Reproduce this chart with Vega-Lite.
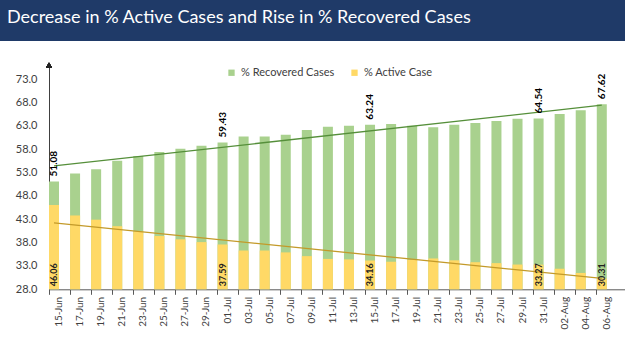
{
  "$schema": "https://vega.github.io/schema/vega-lite/v6.json",
  "width": 625,
  "height": 310,
  "autosize": {"type": "none"},
  "padding": {"left": 0, "top": 41, "right": 0, "bottom": 0},
  "background": "#1f3a68",
  "config": {"view": {"fill": "white", "stroke": null}, "font": "Lato"},
  "title": {
    "text": "Decrease in % Active Cases and Rise in % Recovered Cases",
    "anchor": "start",
    "frame": "group",
    "color": "white",
    "font": "Lato",
    "fontSize": 18,
    "fontWeight": "normal",
    "dx": 7,
    "offset": 0,
    "baseline": "alphabetic"
  },
  "datasets": {
    "trend": [
      {"date": "15-Jun", "series": "rec", "value": 54.4},
      {"date": "06-Aug", "series": "rec", "value": 67.4},
      {"date": "15-Jun", "series": "act", "value": 42.2},
      {"date": "06-Aug", "series": "act", "value": 30.35}
    ]
  },
  "data": {
    "values": [
      {"date": "15-Jun", "recovered": 51.08, "active": 46.06, "lab": true},
      {"date": "17-Jun", "recovered": 52.8, "active": 43.8, "lab": false},
      {"date": "19-Jun", "recovered": 53.7, "active": 42.9, "lab": false},
      {"date": "21-Jun", "recovered": 55.5, "active": 41.5, "lab": false},
      {"date": "23-Jun", "recovered": 56.5, "active": 40.4, "lab": false},
      {"date": "25-Jun", "recovered": 57.4, "active": 39.4, "lab": false},
      {"date": "27-Jun", "recovered": 58.1, "active": 38.7, "lab": false},
      {"date": "29-Jun", "recovered": 58.7, "active": 38.1, "lab": false},
      {"date": "01-Jul", "recovered": 59.43, "active": 37.59, "lab": true},
      {"date": "03-Jul", "recovered": 60.7, "active": 36.3, "lab": false},
      {"date": "05-Jul", "recovered": 60.7, "active": 36.3, "lab": false},
      {"date": "07-Jul", "recovered": 61.1, "active": 35.9, "lab": false},
      {"date": "09-Jul", "recovered": 62.1, "active": 35.1, "lab": false},
      {"date": "11-Jul", "recovered": 62.8, "active": 34.5, "lab": false},
      {"date": "13-Jul", "recovered": 63.0, "active": 34.4, "lab": false},
      {"date": "15-Jul", "recovered": 63.24, "active": 34.16, "lab": true},
      {"date": "17-Jul", "recovered": 63.4, "active": 33.9, "lab": false},
      {"date": "19-Jul", "recovered": 63.0, "active": 34.3, "lab": false},
      {"date": "21-Jul", "recovered": 62.7, "active": 34.6, "lab": false},
      {"date": "23-Jul", "recovered": 63.2, "active": 34.2, "lab": false},
      {"date": "25-Jul", "recovered": 63.6, "active": 33.8, "lab": false},
      {"date": "27-Jul", "recovered": 64.0, "active": 33.6, "lab": false},
      {"date": "29-Jul", "recovered": 64.5, "active": 33.3, "lab": false},
      {"date": "31-Jul", "recovered": 64.54, "active": 33.27, "lab": true},
      {"date": "02-Aug", "recovered": 65.5, "active": 32.4, "lab": false},
      {"date": "04-Aug", "recovered": 66.3, "active": 31.5, "lab": false},
      {"date": "06-Aug", "recovered": 67.62, "active": 30.31, "lab": true}
    ]
  },
  "encoding": {
    "x": {
      "field": "date",
      "type": "ordinal",
      "sort": null,
      "scale": {
        "domain": ["15-Jun","17-Jun","19-Jun","21-Jun","23-Jun","25-Jun","27-Jun","29-Jun","01-Jul","03-Jul","05-Jul","07-Jul","09-Jul","11-Jul","13-Jul","15-Jul","17-Jul","19-Jul","21-Jul","23-Jul","25-Jul","27-Jul","29-Jul","31-Jul","02-Aug","04-Aug","06-Aug"],
        "range": [49, 625],
        "paddingInner": 0.525,
        "paddingOuter": 0.432,
        "align": 0
      },
      "axis": {
        "title": null,
        "labelAngle": -90,
        "bandPosition": 0,
        "labelOffset": 5,
        "tickSize": 5,
        "tickColor": "#595959",
        "domainColor": "#595959",
        "labelColor": "#404040",
        "labelFontSize": 10,
        "labelPadding": 2,
        "labelOverlap": false,
        "offset": -61.7
      }
    }
  },
  "layer": [
    {
      "mark": {"type": "bar"},
      "encoding": {
        "y": {
          "field": "recovered",
          "type": "quantitative",
          "scale": {"domain": [28, 76], "range": [248.3, 24], "zero": false, "nice": false},
          "axis": {
            "title": null,
            "values": [28, 33, 38, 43, 48, 53, 58, 63, 68, 73],
            "tickCount": 20,
            "format": ".1f",
            "ticks": false,
            "grid": false,
            "labelOverlap": false,
            "labelPadding": 12,
            "offset": -49,
            "domainColor": "#404040",
            "labelColor": "#404040",
            "labelFontSize": 11
          }
        },
        "y2": {"datum": 28},
        "color": {
          "datum": "% Recovered Cases",
          "scale": {"domain": ["% Recovered Cases", "% Active Case"], "range": ["#a9d18e", "#ffd966"]},
          "legend": {
            "orient": "none",
            "legendX": 226,
            "legendY": 26,
            "direction": "horizontal",
            "title": null,
            "symbolType": "square",
            "symbolSize": 40,
            "symbolStrokeWidth": 0,
            "labelFontSize": 11,
            "labelColor": "#404040",
            "columnPadding": 14
          }
        }
      }
    },
    {
      "mark": {"type": "bar"},
      "encoding": {
        "y": {"field": "active", "type": "quantitative"},
        "y2": {"datum": 28},
        "color": {"datum": "% Active Case"}
      }
    },
    {
      "data": {"name": "trend"},
      "transform": [{"filter": "datum.series == 'rec'"}],
      "mark": {"type": "line", "color": "#558f3a", "strokeWidth": 1.3},
      "encoding": {"y": {"field": "value", "type": "quantitative"}}
    },
    {
      "data": {"name": "trend"},
      "transform": [{"filter": "datum.series == 'act'"}],
      "mark": {"type": "line", "color": "#c39a2a", "strokeWidth": 1.3},
      "encoding": {"y": {"field": "value", "type": "quantitative"}}
    },
    {
      "transform": [{"filter": "datum.lab"}],
      "mark": {"type": "text", "angle": 270, "align": "left", "baseline": "middle", "dx": 5, "fontWeight": "bold", "fontSize": 10, "color": "black"},
      "encoding": {
        "y": {"field": "recovered", "type": "quantitative"},
        "text": {"field": "recovered", "type": "quantitative", "format": ".2f"}
      }
    },
    {
      "transform": [{"filter": "datum.lab"}],
      "mark": {"type": "text", "angle": 270, "align": "left", "baseline": "middle", "dx": 3, "fontWeight": "bold", "fontSize": 9, "color": "#222222"},
      "encoding": {
        "y": {"datum": 28},
        "text": {"field": "active", "type": "quantitative", "format": ".2f"}
      }
    },
    {
      "mark": {"type": "point", "shape": "triangle-up", "filled": true, "size": 25, "color": "#222222", "opacity": 1},
      "encoding": {
        "x": {"datum": "15-Jun", "bandPosition": 0},
        "y": {"datum": 76}
      }
    }
  ]
}
